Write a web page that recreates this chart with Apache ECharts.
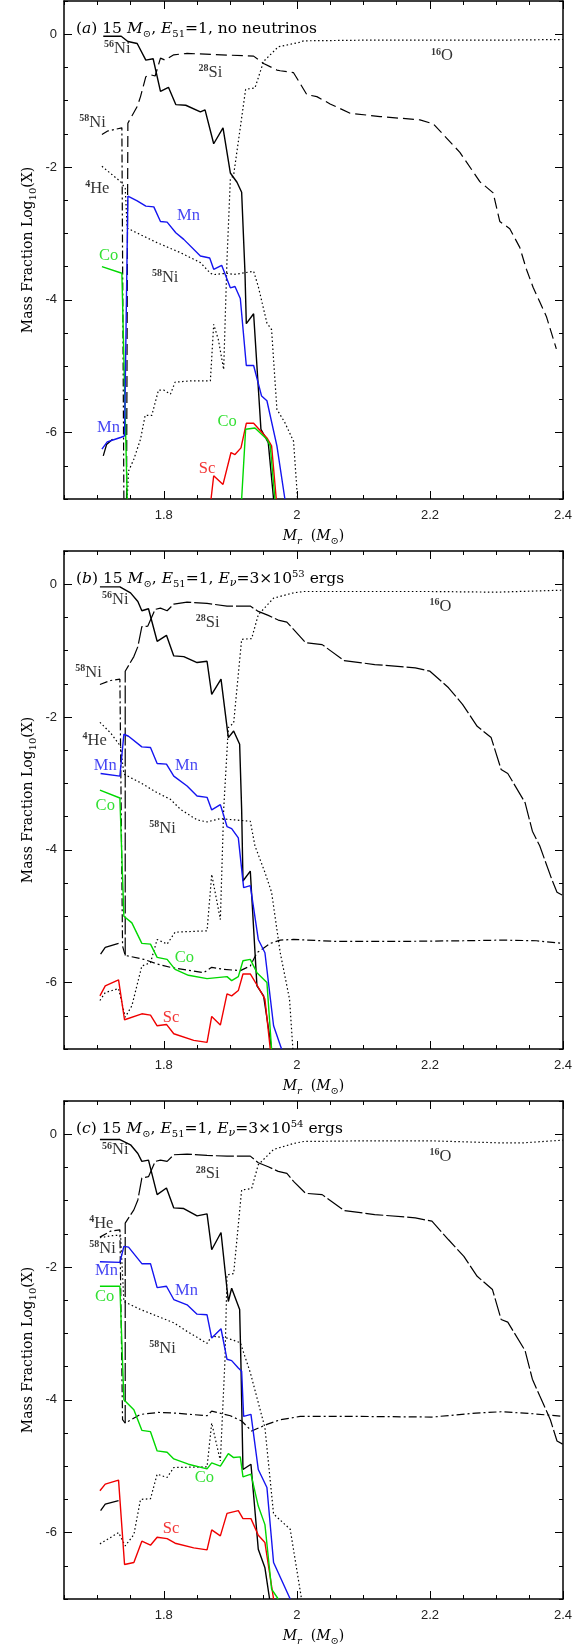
<!DOCTYPE html>
<html><head><meta charset="utf-8">
<script src="https://cdn.jsdelivr.net/npm/echarts@6/dist/echarts.min.js"></script>
<style>html,body{margin:0;padding:0;background:#fff}#c{width:584px;height:1649px}</style>
</head><body><div id="c"></div>
<script>
// ---------- axes ----------
const xMin = 1.65, xMax = 2.4, yMin = -7, yMax = 0.5;
const xMajorTicks = [1.8, 2.0, 2.2, 2.4];
const yMajorTicks = [0, -2, -4, -6];

// ---------- panel (a): no neutrinos ----------
const ni56_a = [[1.709,-0.03],[1.736,-0.03],[1.746,-0.11],[1.760,-0.14],[1.773,-0.39],[1.784,-0.37],[1.795,-0.86],[1.807,-0.80],[1.818,-1.06],[1.833,-1.07],[1.855,-1.17],[1.862,-1.14],[1.875,-1.65],[1.889,-1.41],[1.900,-2.09],[1.910,-2.23],[1.917,-2.38],[1.922,-3.59],[1.924,-4.36],[1.935,-4.21],[1.946,-5.95],[1.957,-6.15],[1.965,-7.0]];
const si28_a = [[1.744,-7.0],[1.746,-1.34],[1.760,-1.09],[1.765,-0.94],[1.773,-0.64],[1.780,-0.61],[1.787,-0.63],[1.795,-0.36],[1.802,-0.39],[1.815,-0.31],[1.835,-0.29],[1.935,-0.33],[1.950,-0.44],[1.970,-0.54],[1.975,-0.55],[1.995,-0.58],[2.015,-0.91],[2.030,-0.94],[2.050,-1.05],[2.080,-1.19],[2.125,-1.24],[2.185,-1.29],[2.205,-1.35],[2.220,-1.51],[2.245,-1.78],[2.275,-2.22],[2.295,-2.39],[2.305,-2.82],[2.320,-2.93],[2.335,-3.21],[2.345,-3.54],[2.355,-3.81],[2.365,-4.03],[2.375,-4.25],[2.390,-4.74]];
const o16_a = [[1.745,-7.0],[1.747,-6.58],[1.755,-6.40],[1.765,-6.10],[1.772,-5.74],[1.782,-5.74],[1.792,-5.36],[1.800,-5.36],[1.810,-5.42],[1.817,-5.24],[1.842,-5.22],[1.870,-5.22],[1.875,-4.37],[1.882,-4.60],[1.890,-5.05],[1.895,-3.39],[1.900,-2.19],[1.905,-2.12],[1.923,-0.83],[1.937,-0.81],[1.950,-0.41],[1.972,-0.19],[2.005,-0.12],[2.010,-0.10],[2.100,-0.09],[2.200,-0.09],[2.300,-0.09],[2.400,-0.08]];
const he4_a = [[1.707,-1.99],[1.735,-2.22],[1.742,-2.32],[1.745,-2.92],[1.765,-3.02],[1.790,-3.14],[1.825,-3.29],[1.855,-3.44],[1.870,-3.60],[1.875,-3.62],[1.895,-3.60],[1.905,-3.62],[1.935,-3.57],[1.942,-3.80],[1.955,-4.35],[1.962,-4.45],[1.970,-5.65],[1.982,-5.85],[1.995,-6.13],[2.000,-6.85],[2.001,-7.0]];
const ni58_a = [[1.707,-1.51],[1.715,-1.46],[1.737,-1.41],[1.740,-7.0]];
const mn_a = [[1.707,-6.25],[1.715,-6.14],[1.727,-6.10],[1.736,-6.07],[1.741,-6.05],[1.746,-2.44],[1.760,-2.51],[1.773,-2.59],[1.785,-2.60],[1.795,-2.82],[1.805,-2.83],[1.818,-2.99],[1.830,-3.09],[1.855,-3.34],[1.869,-3.37],[1.875,-3.54],[1.887,-3.48],[1.900,-3.82],[1.907,-3.80],[1.915,-3.98],[1.924,-4.99],[1.935,-4.99],[1.947,-5.45],[1.955,-5.52],[1.970,-6.20],[1.982,-7.0]];
const co_a1 = [[1.707,-3.50],[1.737,-3.60],[1.745,-7.0]];
const co_a2 = [[1.917,-7.0],[1.923,-5.95],[1.937,-5.93],[1.955,-6.10],[1.960,-6.20],[1.967,-7.0]];
const sc_a = [[1.871,-7.0],[1.875,-6.65],[1.889,-6.78],[1.901,-6.30],[1.907,-6.33],[1.916,-6.23],[1.924,-5.86],[1.935,-5.86],[1.955,-6.08],[1.962,-6.20],[1.969,-7.0]];
const bk_a = [[1.709,-6.35],[1.714,-6.18],[1.723,-6.10]];
const labels_a = [[1.730,-0.22,'56Ni'],[1.870,-0.58,'28Si'],[1.693,-1.33,'58Ni'],[1.700,-2.33,'4He'],[1.837,-2.73,'Mn'],[1.717,-3.33,'Co'],[1.802,-3.66,'58Ni'],[1.717,-5.92,'Mn'],[1.895,-5.83,'Co'],[1.865,-6.54,'Sc'],[2.218,-0.33,'16O']];

// ---------- panel (b): E_nu = 3e53 ----------
const ni56_b = [[1.704,-0.04],[1.734,-0.04],[1.750,-0.13],[1.761,-0.26],[1.767,-0.40],[1.777,-0.37],[1.790,-0.86],[1.804,-0.77],[1.815,-1.08],[1.830,-1.09],[1.850,-1.18],[1.865,-1.16],[1.872,-1.66],[1.886,-1.43],[1.897,-2.31],[1.905,-2.21],[1.914,-2.41],[1.917,-3.39],[1.919,-4.47],[1.930,-4.32],[1.940,-6.05],[1.950,-6.20],[1.962,-7.0]];
const si28_b = [[1.742,-5.59],[1.742,-1.31],[1.755,-1.09],[1.761,-0.94],[1.767,-0.64],[1.776,-0.63],[1.787,-0.38],[1.795,-0.36],[1.805,-0.40],[1.815,-0.30],[1.835,-0.27],[1.865,-0.29],[1.895,-0.33],[1.930,-0.33],[1.942,-0.41],[1.957,-0.47],[1.972,-0.54],[1.985,-0.57],[1.995,-0.68],[2.013,-0.88],[2.038,-0.91],[2.071,-1.15],[2.117,-1.21],[2.178,-1.26],[2.200,-1.31],[2.228,-1.56],[2.249,-1.81],[2.271,-2.14],[2.292,-2.31],[2.307,-2.79],[2.317,-2.85],[2.343,-3.29],[2.354,-3.72],[2.365,-3.94],[2.383,-4.44],[2.391,-4.64],[2.400,-4.69]];
const o16_b = [[1.704,-6.27],[1.712,-6.15],[1.732,-6.09],[1.742,-6.52],[1.752,-6.35],[1.767,-5.75],[1.780,-5.70],[1.790,-5.35],[1.805,-5.42],[1.817,-5.24],[1.865,-5.22],[1.872,-4.37],[1.885,-5.05],[1.890,-3.39],[1.897,-2.16],[1.905,-2.09],[1.917,-0.83],[1.932,-0.82],[1.942,-0.46],[1.965,-0.21],[1.995,-0.13],[2.010,-0.11],[2.100,-0.11],[2.200,-0.11],[2.300,-0.12],[2.400,-0.09]];
const he4_b = [[1.704,-2.08],[1.720,-2.24],[1.735,-2.44],[1.740,-2.86],[1.765,-2.99],[1.790,-3.14],[1.810,-3.24],[1.825,-3.39],[1.850,-3.55],[1.865,-3.58],[1.885,-3.53],[1.895,-3.54],[1.930,-3.57],[1.937,-3.94],[1.952,-4.34],[1.962,-4.64],[1.975,-5.55],[1.989,-6.25],[1.994,-7.0]];
const ni58_b = [[1.704,-1.51],[1.720,-1.45],[1.734,-1.43],[1.738,-5.45],[1.742,-5.59],[1.770,-5.65],[1.790,-5.72],[1.810,-5.77],[1.860,-5.85],[1.872,-5.77],[1.890,-5.80],[1.915,-5.82],[1.930,-5.75],[1.940,-5.55],[1.960,-5.41],[1.975,-5.36],[1.995,-5.35],[2.060,-5.38],[2.150,-5.38],[2.250,-5.37],[2.310,-5.36],[2.360,-5.37],[2.400,-5.41]];
const mn_b = [[1.705,-2.85],[1.734,-2.89],[1.740,-2.26],[1.747,-2.29],[1.767,-2.45],[1.780,-2.46],[1.790,-2.70],[1.804,-2.71],[1.815,-2.89],[1.835,-3.04],[1.850,-3.19],[1.865,-3.21],[1.872,-3.40],[1.885,-3.32],[1.895,-3.65],[1.902,-3.68],[1.912,-3.82],[1.920,-4.57],[1.930,-4.54],[1.942,-5.35],[1.952,-5.55],[1.965,-6.65],[1.977,-7.0]];
const co_b = [[1.704,-3.10],[1.734,-3.22],[1.740,-5.00],[1.752,-5.10],[1.767,-5.41],[1.780,-5.42],[1.790,-5.62],[1.805,-5.65],[1.817,-5.80],[1.837,-5.89],[1.865,-5.94],[1.895,-5.91],[1.902,-5.97],[1.912,-5.91],[1.919,-5.67],[1.930,-5.65],[1.940,-5.85],[1.955,-6.00],[1.962,-7.0]];
const sc_b = [[1.704,-6.20],[1.712,-6.05],[1.732,-5.96],[1.741,-6.56],[1.767,-6.47],[1.780,-6.49],[1.790,-6.65],[1.804,-6.63],[1.815,-6.77],[1.845,-6.87],[1.865,-6.90],[1.872,-6.51],[1.885,-6.64],[1.895,-6.17],[1.902,-6.20],[1.912,-6.12],[1.919,-5.87],[1.930,-5.87],[1.942,-6.07],[1.952,-6.25],[1.960,-7.0]];
const bk_b = [[1.705,-5.57],[1.712,-5.47],[1.732,-5.41]];
const labels_b = [[1.727,-0.23,'56Ni'],[1.866,-0.58,'28Si'],[1.687,-1.33,'58Ni'],[1.696,-2.36,'4He'],[1.712,-2.73,'Mn'],[1.834,-2.73,'Mn'],[1.712,-3.33,'Co'],[1.798,-3.68,'58Ni'],[1.831,-5.63,'Co'],[1.811,-6.53,'Sc'],[2.216,-0.34,'16O']];

// ---------- panel (c): E_nu = 3e54 ----------
const ni56_c = [[1.704,-0.08],[1.734,-0.08],[1.750,-0.16],[1.761,-0.29],[1.767,-0.41],[1.777,-0.39],[1.790,-0.91],[1.804,-0.81],[1.815,-1.11],[1.830,-1.12],[1.850,-1.23],[1.865,-1.20],[1.872,-1.74],[1.886,-1.48],[1.897,-2.52],[1.902,-2.32],[1.914,-2.64],[1.916,-3.49],[1.919,-5.05],[1.931,-4.97],[1.942,-6.25],[1.952,-6.53],[1.959,-7.0]];
const si28_c = [[1.742,-4.35],[1.742,-1.34],[1.755,-1.14],[1.761,-0.99],[1.767,-0.66],[1.777,-0.64],[1.787,-0.41],[1.795,-0.39],[1.805,-0.41],[1.815,-0.31],[1.835,-0.30],[1.865,-0.32],[1.895,-0.33],[1.930,-0.33],[1.942,-0.43],[1.957,-0.49],[1.972,-0.56],[1.985,-0.59],[1.995,-0.71],[2.013,-0.89],[2.038,-0.91],[2.071,-1.15],[2.117,-1.21],[2.178,-1.26],[2.203,-1.31],[2.228,-1.59],[2.251,-1.84],[2.271,-2.14],[2.294,-2.34],[2.307,-2.79],[2.317,-2.83],[2.343,-3.26],[2.354,-3.69],[2.365,-3.94],[2.381,-4.30],[2.391,-4.62],[2.400,-4.67]];
const o16_c = [[1.704,-6.17],[1.732,-6.00],[1.742,-6.20],[1.755,-6.03],[1.765,-5.50],[1.780,-5.49],[1.790,-5.12],[1.805,-5.17],[1.815,-5.02],[1.865,-5.01],[1.872,-4.35],[1.885,-4.92],[1.892,-3.39],[1.895,-2.12],[1.905,-2.10],[1.917,-0.84],[1.932,-0.82],[1.942,-0.46],[1.965,-0.23],[1.995,-0.14],[2.010,-0.11],[2.100,-0.10],[2.200,-0.10],[2.304,-0.13],[2.340,-0.13],[2.400,-0.09]];
const he4_c = [[1.704,-1.56],[1.720,-1.53],[1.735,-1.52],[1.740,-2.52],[1.765,-2.64],[1.790,-2.74],[1.815,-2.84],[1.835,-2.97],[1.865,-3.15],[1.872,-3.04],[1.895,-3.07],[1.915,-3.14],[1.930,-3.59],[1.952,-4.42],[1.965,-5.72],[1.990,-5.95],[2.007,-7.0]];
const ni58_c = [[1.704,-1.55],[1.720,-1.46],[1.734,-1.44],[1.738,-4.30],[1.742,-4.35],[1.765,-4.22],[1.792,-4.19],[1.817,-4.20],[1.865,-4.24],[1.872,-4.17],[1.900,-4.24],[1.917,-4.32],[1.932,-4.47],[1.955,-4.37],[1.975,-4.30],[2.005,-4.25],[2.091,-4.25],[2.203,-4.26],[2.269,-4.20],[2.307,-4.18],[2.355,-4.21],[2.400,-4.25]];
const mn_c = [[1.704,-1.92],[1.734,-1.93],[1.740,-1.69],[1.747,-1.70],[1.767,-1.95],[1.780,-1.95],[1.790,-2.31],[1.804,-2.29],[1.815,-2.49],[1.835,-2.57],[1.850,-2.71],[1.865,-2.72],[1.872,-3.07],[1.886,-2.93],[1.895,-3.39],[1.902,-3.41],[1.912,-3.52],[1.917,-3.57],[1.920,-4.25],[1.931,-4.22],[1.942,-5.05],[1.955,-5.32],[1.965,-6.45],[1.990,-7.0]];
const co_c = [[1.704,-2.29],[1.734,-2.29],[1.740,-4.00],[1.755,-4.15],[1.767,-4.46],[1.780,-4.48],[1.790,-4.77],[1.805,-4.79],[1.815,-4.89],[1.837,-4.97],[1.865,-5.04],[1.872,-4.95],[1.885,-5.00],[1.897,-4.81],[1.905,-4.87],[1.915,-4.86],[1.919,-5.16],[1.931,-5.12],[1.942,-5.60],[1.952,-5.88],[1.962,-6.85],[1.972,-7.0]];
const sc_c = [[1.704,-5.37],[1.712,-5.27],[1.732,-5.21],[1.741,-6.48],[1.755,-6.45],[1.767,-6.13],[1.780,-6.19],[1.790,-6.07],[1.805,-6.09],[1.817,-6.16],[1.845,-6.23],[1.865,-6.26],[1.872,-5.96],[1.885,-6.05],[1.895,-5.71],[1.912,-5.67],[1.919,-5.79],[1.931,-5.79],[1.942,-6.04],[1.952,-6.15],[1.965,-7.0]];
const bk_c = [[1.705,-5.67],[1.712,-5.57],[1.732,-5.52]];
const labels_c = [[1.727,-0.24,'56Ni'],[1.866,-0.60,'28Si'],[1.706,-1.35,'4He'],[1.708,-1.72,'58Ni'],[1.714,-2.06,'Mn'],[1.711,-2.45,'Co'],[1.834,-2.36,'Mn'],[1.798,-3.23,'58Ni'],[1.861,-5.17,'Co'],[1.811,-5.94,'Sc'],[2.216,-0.34,'16O']];

const titles = [
  '({it|a}) 15 {it|M}{sub|⊙}, {it|E}{sub|51}=1, no neutrinos',
  '({it|b}) 15 {it|M}{sub|⊙}, {it|E}{sub|51}=1, {it|E}{subi|ν}=3×10{sup|53} ergs',
  '({it|c}) 15 {it|M}{sub|⊙}, {it|E}{sub|51}=1, {it|E}{subi|ν}=3×10{sup|54} ergs'
];

// ---------- styles ----------
const BLUE = '#1414f0', GREEN = '#00d800', RED = '#f00000', BLACK = '#000';
const SERIF = 'DejaVu Serif';
const panels = [
  {ni56:ni56_a, si28:si28_a, o16:o16_a, he4:he4_a, ni58:ni58_a, mn:mn_a, co:[co_a1,co_a2], sc:sc_a, bk:bk_a, labels:labels_a, siDash:[11,5]},
  {ni56:ni56_b, si28:si28_b, o16:o16_b, he4:he4_b, ni58:ni58_b, mn:mn_b, co:[co_b], sc:sc_b, bk:bk_b, labels:labels_b, siDash:[18,3]},
  {ni56:ni56_c, si28:si28_c, o16:o16_c, he4:he4_c, ni58:ni58_c, mn:mn_c, co:[co_c], sc:sc_c, bk:bk_c, labels:labels_c, siDash:[18,3]}
];

function fmtX(v){ return Math.abs(v*5 - Math.round(v*5)) < 1e-6 ? String(Math.round(v*10)/10) : ''; }
function fmtY(v){ return Math.abs(v/2 - Math.round(v/2)) < 1e-6 ? String(Math.round(v)) : ''; }
function labelColor(t){ return t==='Mn'?BLUE : t==='Co'?GREEN : t==='Sc'?RED : BLACK; }
function labelText(t){ const m = t.match(/^(\d+)(\D+)$/); return m ? '{sup|'+m[1]+'}{el|'+m[2]+'}' : '{el|'+t+'}'; }

const grid=[], xAxis=[], yAxis=[], series=[], title=[];
const axLine = {onZero:false, lineStyle:{color:'#000', width:1.5}};
const noLine = {show:false, onZero:false};
panels.forEach((p,g)=>{
  const top = 1 + 550*g;
  grid.push({left:64, right:21, top:top, height:498});
  const bx = {type:'value', min:xMin, max:xMax, gridIndex:g, splitLine:{show:false}};
  const by = {type:'value', min:yMin, max:yMax, gridIndex:g, splitLine:{show:false}};
  xAxis.push(Object.assign({}, bx, {position:'bottom', interval:0.05, axisLine:axLine,
    axisTick:{inside:true, length:4, lineStyle:{color:'#000', width:1}},
    axisLabel:{formatter:fmtX, margin:10, fontFamily:'Liberation Sans', fontSize:13, color:'#222', showMinLabel:true, showMaxLabel:true, hideOverlap:false},
    name:'{i|M}{s|r}  ({i|M}{s2|⊙})', nameLocation:'middle', nameGap:27, nameMoveOverlap:false,
    nameTextStyle:{fontFamily:SERIF, fontSize:14, color:'#000', lineHeight:20, rich:{
      i:{fontStyle:'italic', fontFamily:SERIF, fontSize:14, lineHeight:20},
      s:{fontStyle:'italic', fontFamily:SERIF, fontSize:10, lineHeight:12, verticalAlign:'bottom'},
      s2:{fontFamily:SERIF, fontSize:10, lineHeight:12, verticalAlign:'bottom'}}}}));
  xAxis.push(Object.assign({}, bx, {position:'bottom', axisLine:noLine,
    axisTick:{inside:true, length:8, customValues:xMajorTicks, lineStyle:{color:'#000', width:1}}, axisLabel:{show:false}}));
  xAxis.push(Object.assign({}, bx, {position:'top', interval:0.05, axisLine:axLine,
    axisTick:{inside:true, length:4, lineStyle:{color:'#000', width:1}}, axisLabel:{show:false}}));
  xAxis.push(Object.assign({}, bx, {position:'top', axisLine:noLine,
    axisTick:{inside:true, length:8, customValues:xMajorTicks, lineStyle:{color:'#000', width:1}}, axisLabel:{show:false}}));

  yAxis.push(Object.assign({}, by, {position:'left', interval:0.5, axisLine:axLine,
    axisTick:{inside:true, length:4, lineStyle:{color:'#000', width:1}},
    axisLabel:{formatter:fmtY, margin:7, fontFamily:'Liberation Sans', fontSize:13, color:'#222', showMinLabel:true, showMaxLabel:true},
    name:'Mass Fraction Log{s|10}(X)', nameLocation:'middle', nameGap:26, nameMoveOverlap:false,
    nameTextStyle:{fontFamily:SERIF, fontSize:14, color:'#000', lineHeight:20, rich:{
      s:{fontFamily:SERIF, fontSize:10, lineHeight:12, verticalAlign:'bottom'}}}}));
  yAxis.push(Object.assign({}, by, {position:'left', axisLine:noLine,
    axisTick:{inside:true, length:8, customValues:yMajorTicks, lineStyle:{color:'#000', width:1}}, axisLabel:{show:false}}));
  yAxis.push(Object.assign({}, by, {position:'right', interval:0.5, axisLine:axLine,
    axisTick:{inside:true, length:4, lineStyle:{color:'#000', width:1}}, axisLabel:{show:false}}));
  yAxis.push(Object.assign({}, by, {position:'right', axisLine:noLine,
    axisTick:{inside:true, length:8, customValues:yMajorTicks, lineStyle:{color:'#000', width:1}}, axisLabel:{show:false}}));

  const xi = 4*g, yi = 4*g;
  const line = (data, color, type, width) => ({type:'line', xAxisIndex:xi, yAxisIndex:yi, data:data,
    showSymbol:false, symbol:'none', silent:true, animation:false, clip:true,
    lineStyle:{color:color, width:width||1.3, type:type||'solid'}});
  series.push(line(p.si28, BLACK, p.siDash, 1.2));
  series.push(line(p.o16, BLACK, [1.5,2.5], 1.2));
  series.push(line(p.he4, BLACK, [1.5,2.5], 1.2));
  series.push(line(p.ni58, BLACK, [8,3,2,3], 1.2));
  series.push(line(p.bk, BLACK, 'solid', 1.3));
  series.push(line(p.ni56, BLACK, 'solid', 1.4));
  series.push(line(p.sc, RED, 'solid', 1.4));
  p.co.forEach(c => series.push(line(c, GREEN, 'solid', 1.4)));
  series.push(line(p.mn, BLUE, 'solid', 1.4));
  series.push({type:'scatter', xAxisIndex:xi, yAxisIndex:yi, symbolSize:0, silent:true, animation:false, z:10,
    data:p.labels.map(l => ({value:[l[0], l[1]], label:{show:true, position:'inside', formatter:labelText(l[2]), color:labelColor(l[2])}})),
    label:{show:true, position:'inside', rich:{
      el:{fontFamily:'Liberation Serif', fontSize:16.5, lineHeight:18},
      sup:{fontFamily:'Liberation Serif', fontSize:10, fontWeight:'bold', lineHeight:11, verticalAlign:'top'}}}});

  title.push({text:titles[g], left:71, top:top+13, textStyle:{fontFamily:SERIF, fontSize:15.5, fontWeight:'normal', color:'#000', lineHeight:20, rich:{
    it:{fontStyle:'italic', fontFamily:SERIF, fontSize:15.5, lineHeight:20},
    sub:{fontFamily:SERIF, fontSize:10, lineHeight:12, verticalAlign:'bottom'},
    subi:{fontStyle:'italic', fontFamily:SERIF, fontSize:11, lineHeight:12, verticalAlign:'bottom'},
    sup:{fontFamily:SERIF, fontSize:10, lineHeight:12, verticalAlign:'top'}}}});
});

const chart = echarts.init(document.getElementById('c'), null, {renderer:'canvas'});
chart.setOption({animation:false, backgroundColor:'#fff', title:title, grid:grid, xAxis:xAxis, yAxis:yAxis, series:series});
</script>
</body></html>
